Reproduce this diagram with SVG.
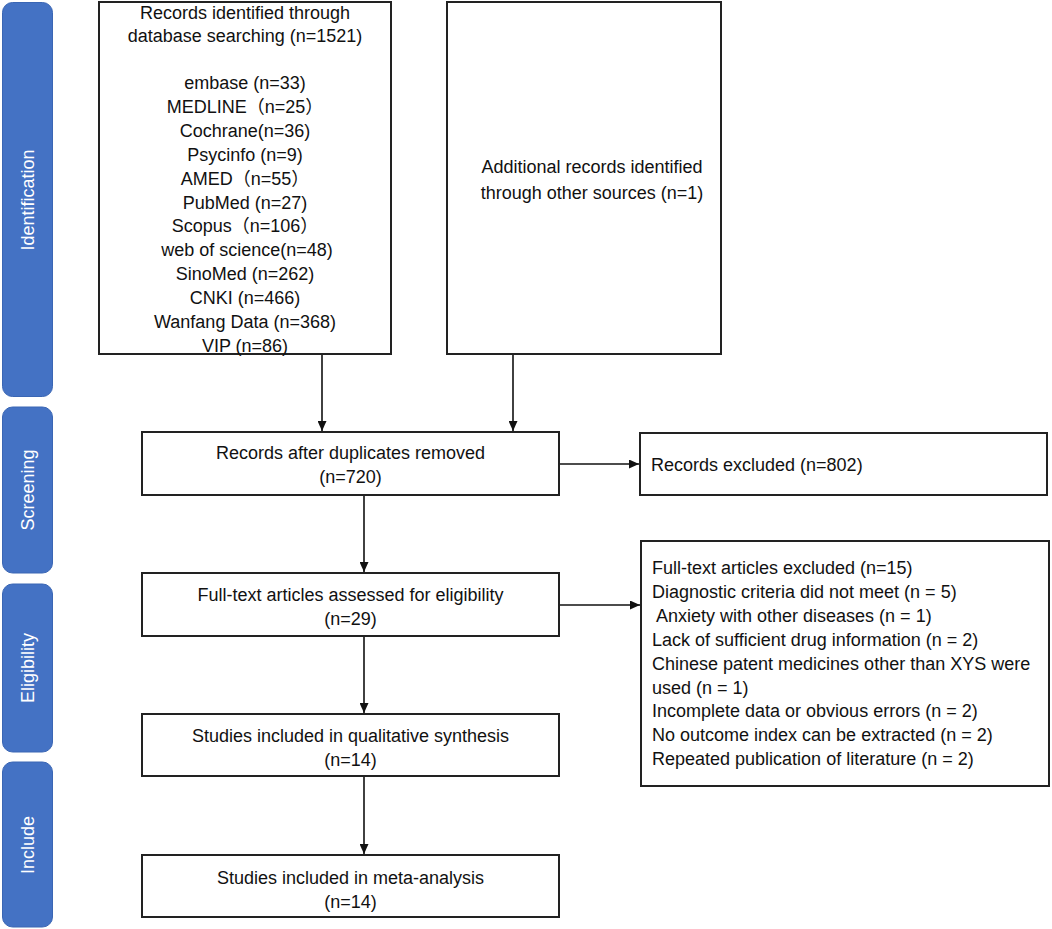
<svg xmlns="http://www.w3.org/2000/svg" width="1052" height="929" viewBox="0 0 1052 929">
<defs>
<style>
.bar{fill:#4472C4;stroke:#3A66B4;stroke-width:1}
.bt{fill:#fff;font-family:"Liberation Sans",Arial,sans-serif;font-size:18px;text-anchor:middle}
.box{fill:#fff;stroke:#222;stroke-width:2}
.t{fill:#111;font-family:"Liberation Sans",Arial,"Noto Sans CJK SC",sans-serif;font-size:18px}
.c{text-anchor:middle}
.con{stroke:#111;stroke-width:1.6;fill:none;marker-end:url(#ah)}
</style>
<marker id="ah" markerUnits="userSpaceOnUse" markerWidth="10" markerHeight="9" refX="10" refY="4.5" orient="auto">
<path d="M0,0 L10,4.5 L0,9 z" fill="#111"/>
</marker>
</defs>
<rect width="1052" height="929" fill="#fff"/>
<g id="phase-identification"><rect class="bar" x="2.5" y="2.5" width="50" height="394" rx="10"/><text class="bt" transform="translate(34,200) rotate(-90)">Identification</text></g>
<g id="phase-screening"><rect class="bar" x="2.5" y="407" width="50" height="166" rx="10"/><text class="bt" transform="translate(34,490) rotate(-90)">Screening</text></g>
<g id="phase-eligibility"><rect class="bar" x="2.5" y="584" width="50" height="168" rx="10"/><text class="bt" transform="translate(34,668) rotate(-90)">Eligibility</text></g>
<g id="phase-include"><rect class="bar" x="2.5" y="762" width="50" height="165" rx="10"/><text class="bt" transform="translate(34,845) rotate(-90)">Include</text></g>

<g id="connectors">
<line class="con" x1="322" y1="354" x2="322" y2="431"/>
<line class="con" x1="513" y1="354" x2="513" y2="431"/>
<line class="con" x1="559" y1="464" x2="639" y2="464"/>
<line class="con" x1="364" y1="495" x2="364" y2="572"/>
<line class="con" x1="559" y1="605" x2="640" y2="605"/>
<line class="con" x1="364" y1="636" x2="364" y2="713"/>
<line class="con" x1="364" y1="776" x2="364" y2="854"/>
</g>

<g id="box-database">
<rect class="box" x="99" y="2" width="292" height="352"/>
<text class="t c" x="245" y="18.5">Records identified through</text>
<text class="t c" x="245" y="42">database searching (n=1521)</text>
<text class="t c" x="245" y="89.3">embase (n=33)</text>
<text class="t c" x="245" y="113.2">MEDLINE（n=25）</text>
<text class="t c" x="245" y="137">Cochrane(n=36)</text>
<text class="t c" x="245" y="160.9">Psycinfo (n=9)</text>
<text class="t c" x="245" y="184.7">AMED（n=55）</text>
<text class="t c" x="245" y="208.6">PubMed (n=27)</text>
<text class="t c" x="245" y="232.4">Scopus（n=106）</text>
<text class="t c" x="247" y="256.3">web of science(n=48)</text>
<text class="t c" x="245" y="280.1">SinoMed (n=262)</text>
<text class="t c" x="245" y="304">CNKI (n=466)</text>
<text class="t c" x="245" y="327.8">Wanfang Data (n=368)</text>
<text class="t c" x="245" y="351.7">VIP (n=86)</text>
</g>

<g id="box-additional">
<rect class="box" x="447" y="2" width="274" height="352"/>
<text class="t c" x="592" y="173">Additional records identified</text>
<text class="t c" x="592" y="199">through other sources (n=1)</text>
</g>

<g id="box-duplicates">
<rect class="box" x="142" y="432" width="417" height="63"/>
<text class="t c" x="350.5" y="459">Records after duplicates removed</text>
<text class="t c" x="350.5" y="483">(n=720)</text>
</g>

<g id="box-records-excluded">
<rect class="box" x="640" y="433" width="407" height="62"/>
<text class="t" x="651" y="471">Records excluded (n=802)</text>
</g>

<g id="box-fulltext">
<rect class="box" x="142" y="573" width="417" height="63"/>
<text class="t c" x="350.5" y="601">Full-text articles assessed for eligibility</text>
<text class="t c" x="350.5" y="625">(n=29)</text>
</g>

<g id="box-fulltext-excluded">
<rect class="box" x="641" y="541" width="408" height="245"/>
<text class="t" x="652" y="574">Full-text articles excluded (n=15)</text>
<text class="t" x="652" y="597.9">Diagnostic criteria did not meet (n = 5)</text>
<text class="t" x="656" y="621.8">Anxiety with other diseases (n = 1)</text>
<text class="t" x="652" y="645.7">Lack of sufficient drug information (n = 2)</text>
<text class="t" x="652" y="669.6">Chinese patent medicines other than XYS were</text>
<text class="t" x="652" y="693.5">used (n = 1)</text>
<text class="t" x="652" y="717.4">Incomplete data or obvious errors (n = 2)</text>
<text class="t" x="652" y="741.3">No outcome index can be extracted (n = 2)</text>
<text class="t" x="652" y="765.2">Repeated publication of literature (n = 2)</text>
</g>

<g id="box-qualitative">
<rect class="box" x="142" y="714" width="417" height="62"/>
<text class="t c" x="350.5" y="742">Studies included in qualitative synthesis</text>
<text class="t c" x="350.5" y="766">(n=14)</text>
</g>

<g id="box-meta">
<rect class="box" x="142" y="855" width="417" height="62"/>
<text class="t c" x="350.5" y="884">Studies included in meta-analysis</text>
<text class="t c" x="350.5" y="908">(n=14)</text>
</g>
</svg>
